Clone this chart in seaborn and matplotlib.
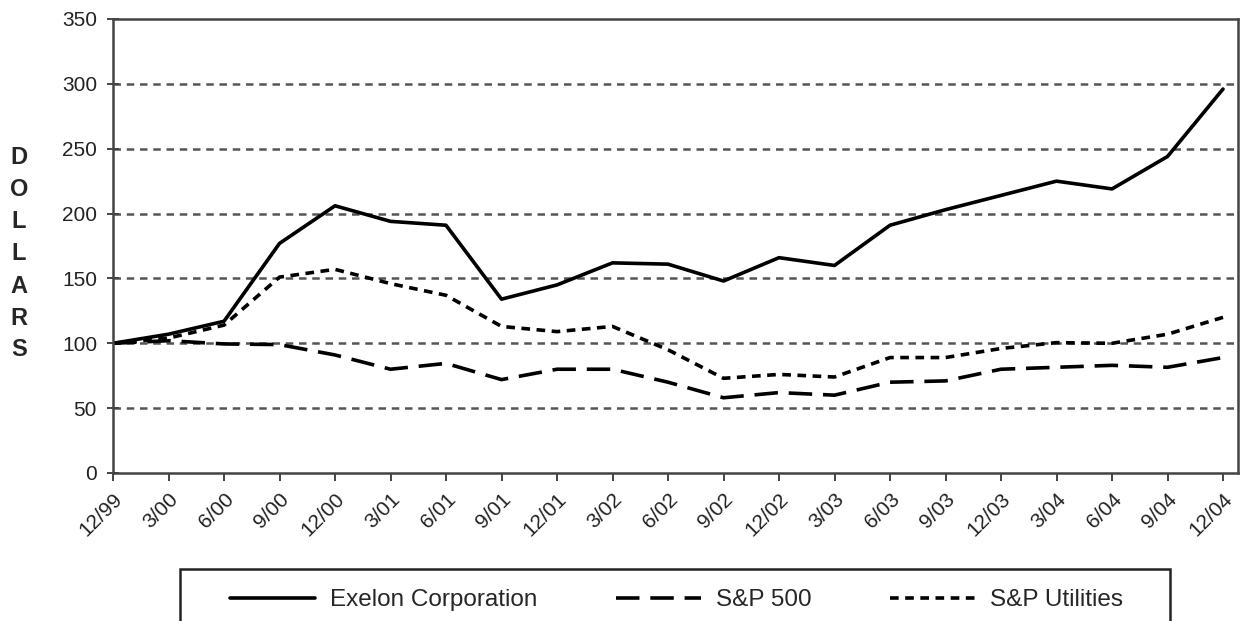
import numpy as np
import pandas as pd
import matplotlib
matplotlib.use("Agg")
import matplotlib.pyplot as plt
import matplotlib.transforms as mtransforms
from matplotlib.patches import Rectangle
import seaborn as sns

# Dados
trimestres = ['12/99', '3/00', '6/00', '9/00', '12/00', '3/01', '6/01', '9/01', '12/01',
              '3/02', '6/02', '9/02', '12/02', '3/03', '6/03', '9/03', '12/03', '3/04',
              '6/04', '9/04', '12/04']
exelon = [100, 107, 117, 177, 206, 194, 191, 134, 145, 162, 161, 148, 166, 160, 191,
          203, 214, 225, 219, 244, 296]
sp500 = [100, 102, 99.5, 99, 91, 80, 84.5, 72, 80, 80, 70, 58, 62, 60, 70, 71, 80,
         81.5, 83, 81.5, 89]
sp_utilities = [100, 104, 114, 151, 157, 146, 137, 113, 109, 113, 95, 73, 76, 74, 89,
                89, 96, 100.5, 100, 107, 120]
series_names = ['Exelon Corporation', 'S&P 500', 'S&P Utilities']
y_ticks = [0, 50, 100, 150, 200, 250, 300, 350]

idx = np.arange(len(trimestres))
df = pd.DataFrame({
    'idx': np.tile(idx, 3),
    'valor': exelon + sp500 + sp_utilities,
    'serie': np.repeat(series_names, len(trimestres)),
})

sns.set_style("white")
plt.rcParams['font.family'] = ['Liberation Sans', 'DejaVu Sans']

fig = plt.figure(figsize=(12.4, 6.21), dpi=100)
ax = fig.add_axes([113 / 1240, 1 - 473 / 621, (1238 - 113) / 1240, (473 - 19) / 621])

sns.lineplot(data=df, x='idx', y='valor', style='serie', color='black', linewidth=2.6,
             dashes={'Exelon Corporation': '', 'S&P 500': (6.5, 3.0),
                     'S&P Utilities': (2.4, 1.8)},
             ax=ax, legend=True)

ax.set_xlim(0, 20.27)
ax.set_ylim(0, 350)
ax.set_yticks(y_ticks)
ax.set_yticklabels([str(v) for v in y_ticks], fontsize=15, color='#222222')
ax.set_xticks(idx)
ax.set_xticklabels(trimestres, rotation=45, ha='right', rotation_mode='anchor',
                   fontsize=15, color='#222222')
# desloca os rótulos do eixo x um pouco para a direita
desloc = mtransforms.ScaledTranslation(8 / 100, 0, fig.dpi_scale_trans)
for lbl in ax.get_xticklabels():
    lbl.set_transform(lbl.get_transform() + desloc)
ax.set_xlabel('')
ax.set_ylabel('')

for v in y_ticks[1:-1]:
    ax.axhline(v, color='#555555', linestyle=(0, (3, 2.3)), linewidth=1.8, zorder=0)

for s in ax.spines.values():
    s.set_color('#444444')
    s.set_linewidth(1.8)
ax.tick_params(axis='y', direction='inout', length=9, width=1.4, color='#444444',
               left=True, pad=7)
ax.tick_params(axis='x', direction='out', length=6, width=1.4, color='#444444',
               bottom=True, pad=6)

# Rótulo vertical "DOLLARS"
for i, letra in enumerate('DOLLARS'):
    fig.text(19 / 1240, 1 - (158 + i * 32) / 621, letra, fontsize=17, fontweight='bold',
             ha='center', va='center')

handles, labels = ax.get_legend_handles_labels()
ax.get_legend().remove()
leg = fig.legend(handles, labels, loc='center left', ncol=3,
                 bbox_to_anchor=(230 / 1240, 1 - 600 / 621),
                 fontsize=17.5, frameon=False,
                 handlelength=3.5, handletextpad=0.6, columnspacing=3.25,
                 borderpad=0, borderaxespad=0)
for line in leg.get_lines():
    line.set_linewidth(2.6)

# moldura da legenda (cortada na borda inferior)
fig.patches.append(Rectangle((180 / 1240, -0.1), (1170 - 180) / 1240, 0.1 + 52 / 621,
                             transform=fig.transFigure, fill=False,
                             edgecolor='#222222', linewidth=1.8))

fig.savefig('out.png', dpi=100)
